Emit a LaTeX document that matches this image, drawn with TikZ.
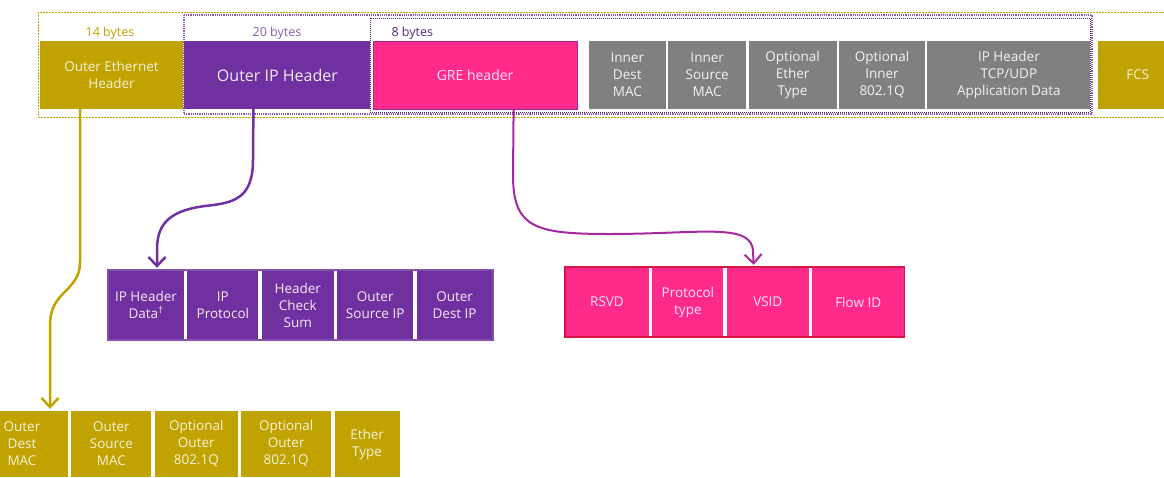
\documentclass[tikz,border=0pt]{standalone}
\usepackage{fontspec}
\setmainfont{Open Sans}
\usepackage{tikz}
\usetikzlibrary{arrows.meta,positioning}
\definecolor{ethgold}{RGB}{192,162,0}
\definecolor{ipviolet}{RGB}{112,48,160}
\definecolor{grepink}{RGB}{255,42,140}
\definecolor{grered}{RGB}{214,20,70}
\definecolor{greframe}{RGB}{150,40,160}
\definecolor{innergray}{RGB}{128,128,128}
\tikzset{
    %Define standard arrow tip
    >={Straight Barb[length=9pt,width=17pt]},
    %Define style for header fields
    field/.style={
           rectangle,
           inner sep=0pt,
           align=center,
           minimum height=68pt,
           text=white!92!black,
           font=\fontsize{13.5}{17}\selectfont},
    % Define arrow style
    pil/.style={
           ->,
           line width=2.5pt,
           shorten >=2pt,}
}

\begin{document}
\begin{tikzpicture}[x=1pt,y=-1pt]
	\useasboundingbox (0,0) rectangle (1164,477);
	\clip (0,0) rectangle (1164,477);
	% Styles
	\tikzstyle{bytes} = [font=\fontsize{12.5}{15}\selectfont]
	\tikzstyle{eth} = [field, fill=ethgold, text=white!85!ethgold]
	\tikzstyle{ip} = [field, fill=ipviolet, text=white!90!ipviolet]
	\tikzstyle{gre} = [field, fill=grepink, text=white!88!grepink]
	\tikzstyle{inner} = [field, fill=innergray, text=white!90!innergray]

	% Frames
	\draw[ethgold, line width=0.8pt, dash pattern=on 2pt off 1pt] (38,12) rectangle (1180,117);
	\draw[ipviolet!80!white, line width=1.2pt, densely dotted] (184,15) rectangle (1092,114);
	\draw[ipviolet!70!black, line width=1pt, densely dotted] (370,18) rectangle (1090,112);

	% Sizes
	\node[bytes, text=ethgold] (b14) at (110,33) {14 bytes};
	\node[bytes, text=ipviolet!80!white] (b20) at (277,33) {20 bytes};
	\node[bytes, text=ipviolet!80!black, anchor=west] (b8) at (388,33) {8 bytes};

	% Packet
	\node[eth, minimum width=143pt] (oeth) at (111.5,75) {Outer Ethernet\\Header};
	\node[ip, minimum width=186pt, right=1pt of oeth, font=\fontsize{16}{19}\selectfont] (oip) {Outer IP Header};
	\node[gre, minimum width=204pt, draw=greframe, line width=1pt, right=2pt of oip, font=\fontsize{14}{17}\selectfont] (gre) {GRE header};
	\node[inner, minimum width=77pt, right=11pt of gre] (idmac) {Inner\\Dest\\MAC};
	\node[inner, minimum width=78pt, right=2pt of idmac] (ismac) {Inner\\Source\\MAC};
	\node[inner, minimum width=88pt, right=2pt of ismac] (itype) {Optional\\Ether\\Type};
	\node[inner, minimum width=86pt, right=2pt of itype] (ivlan) {Optional\\Inner\\802.1Q};
	\node[inner, minimum width=163pt, right=2pt of ivlan] (idata) {IP Header\\TCP/UDP\\Application Data};
	\node[eth, minimum width=80pt, right=7pt of idata] (fcs) {FCS};

	% Outer IP header fields
	\node[ip, minimum width=76pt, minimum height=70pt] (ipdat) at (146,305) {IP Header\\Data\textsuperscript{\textdagger}};
	\node[ip, minimum width=71pt, minimum height=70pt, right=3pt of ipdat] (ipprot) {IP\\Protocol};
	\node[ip, minimum width=72pt, minimum height=70pt, right=3pt of ipprot] (ipsum) {Header\\Check\\Sum};
	\node[ip, minimum width=76pt, minimum height=70pt, right=3pt of ipsum] (ipsrc) {Outer\\Source IP};
	\node[ip, minimum width=76pt, minimum height=70pt, right=3pt of ipsrc] (ipdst) {Outer\\Dest IP};
	\draw[ipviolet!85!white, line width=1.5pt] (ipdat.north west) rectangle (ipdst.south east);

	% GRE header fields
	\node[gre, minimum width=84pt, minimum height=70pt] (rsvd) at (607,302) {RSVD};
	\node[gre, minimum width=71pt, minimum height=70pt, right=3pt of rsvd] (ptype) {Protocol\\type};
	\node[gre, minimum width=82pt, minimum height=70pt, right=3pt of ptype] (vsid) {VSID};
	\node[gre, minimum width=92pt, minimum height=70pt, right=3pt of vsid] (flow) {Flow ID};
	\draw[grered, line width=1.5pt] (rsvd.north west) rectangle (flow.south east);

	% Outer Ethernet header fields
	\node[eth, minimum width=92pt, minimum height=66pt] (odmac) at (22,444) {Outer\\Dest\\MAC};
	\node[eth, minimum width=80pt, minimum height=66pt, right=3pt of odmac] (osmac) {Outer\\Source\\MAC};
	\node[eth, minimum width=83pt, minimum height=66pt, right=3pt of osmac] (ovlana) {Optional\\Outer\\802.1Q};
	\node[eth, minimum width=90pt, minimum height=66pt, right=3pt of ovlana] (ovlanb) {Optional\\Outer\\802.1Q};
	\node[eth, minimum width=65pt, minimum height=66pt, right=3pt of ovlanb] (otype) {Ether\\Type};

	% Arrows
	\draw[pil, ethgold] ([xshift=-31.5pt]oeth.south) -- (80,262)
	     .. controls (80,292) and (50,290) .. (50,325) -- ([xshift=28pt]odmac.north);
	\draw[pil, ipviolet] ([xshift=-24pt]oip.south) -- (253,160)
	     .. controls (253,200) and (232,203) .. (205,206)
	     .. controls (165,211) and (157,228) .. (157,250) -- ([xshift=11pt]ipdat.north);
	\draw[pil, line width=2pt, greframe!85!grepink] ([xshift=38.5pt]gre.south) -- (513,175)
	     .. controls (513,228) and (535,234) .. (610,234)
	     .. controls (700,234) and (753,222) .. (753,252) -- ([xshift=-14pt]vsid.north);
\end{tikzpicture}
\end{document}
